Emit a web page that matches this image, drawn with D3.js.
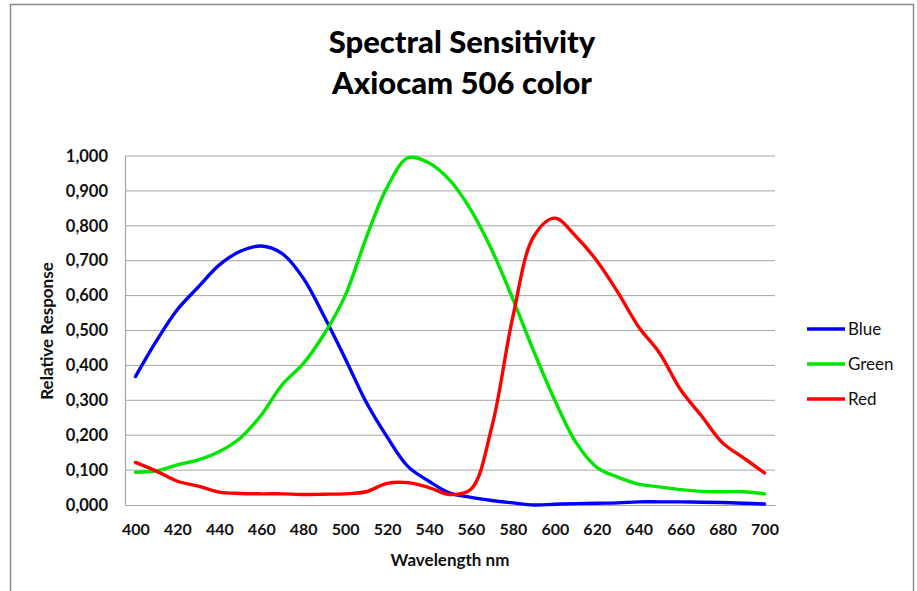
<!DOCTYPE html>
<html><head><meta charset="utf-8">
<script src="https://cdn.jsdelivr.net/npm/d3@7/dist/d3.min.js"></script>
<style>body{margin:0;background:#fff}svg{display:block}</style>
</head><body>
<svg id="c" width="917" height="591"></svg>
<script>
const wavelengths = [400,410,420,430,440,450,460,470,480,490,500,510,520,530,540,550,560,570,580,590,600,610,620,630,640,650,660,670,680,690,700];
const blue  = [0.368,0.47,0.56,0.625,0.688,0.727,0.742,0.72,0.65,0.54,0.42,0.295,0.195,0.11,0.068,0.034,0.022,0.013,0.006,0.0,0.002,0.004,0.005,0.006,0.009,0.009,0.009,0.008,0.007,0.005,0.003];
const green = [0.094,0.098,0.115,0.129,0.153,0.192,0.258,0.345,0.405,0.49,0.6,0.765,0.91,0.995,0.98,0.93,0.845,0.73,0.59,0.44,0.3,0.18,0.108,0.08,0.06,0.052,0.044,0.039,0.038,0.038,0.032];
const red   = [0.122,0.097,0.068,0.054,0.037,0.033,0.032,0.032,0.03,0.031,0.032,0.038,0.062,0.064,0.05,0.03,0.045,0.225,0.54,0.77,0.822,0.77,0.7,0.61,0.51,0.435,0.33,0.255,0.178,0.135,0.092];
const seriesNames = ["Blue","Green","Red"];
const seriesColors = ["#0000ff","#00e600","#ff0000"];
const yTicks = [0,0.1,0.2,0.3,0.4,0.5,0.6,0.7,0.8,0.9,1.0];
const xTickLabels = [400,420,440,460,480,500,520,540,560,580,600,620,640,660,680,700];

const svg = d3.select("#c");
const font = "Lato, 'Open Sans', sans-serif";
// frame
svg.append("rect").attr("x",10.5).attr("y",4.5).attr("width",903).attr("height",600)
  .attr("fill","none").attr("stroke","#8c8c8c").attr("stroke-width",1.5);

const L=125, R=775, T=156, B=505;
const x = d3.scalePoint().domain(wavelengths).range([L,R]).padding(0.5);
const y = d3.scaleLinear().domain([0,1]).range([B,T]);

// gridlines
svg.append("g").selectAll("line").data(yTicks.filter(d=>d>0)).join("line")
  .attr("x1",L).attr("x2",R).attr("y1",d=>y(d)).attr("y2",d=>y(d))
  .attr("stroke","#a6a6a6").attr("stroke-width",1);

// y axis
const fmt = d => d3.format(".3f")(d).replace(".",",");
const yAxis = svg.append("g").attr("transform",`translate(${L},0)`)
  .call(d3.axisLeft(y).tickValues(yTicks).tickFormat(fmt).tickSize(0).tickPadding(17));
yAxis.select(".domain").attr("stroke","#a6a6a6").attr("stroke-width",1.2);
yAxis.selectAll("text").attr("font-family",font).attr("font-weight","bold").attr("font-size","16.5px").attr("fill","#111");

// x axis
const xAxis = svg.append("g").attr("transform",`translate(0,${B})`)
  .call(d3.axisBottom(x).tickValues(xTickLabels).tickSize(0).tickPadding(19));
xAxis.select(".domain").attr("stroke","#a6a6a6").attr("stroke-width",1.2);
xAxis.selectAll("text").attr("font-family",font).attr("font-weight","bold").attr("font-size","16px").attr("fill","#111");

// lines
const data = [blue, green, red];
const line = d3.line().x((d,i)=>x(wavelengths[i])).y(d=>y(d)).curve(d3.curveCatmullRom.alpha(0.5));
svg.append("g").selectAll("path").data(data).join("path")
  .attr("d",d=>line(d)).attr("fill","none")
  .attr("stroke",(d,i)=>seriesColors[i]).attr("stroke-width",3.4)
  .attr("stroke-linejoin","round").attr("stroke-linecap","round");

// title
const title = svg.append("text").attr("text-anchor","middle").attr("font-family",font)
  .attr("font-weight","900").attr("font-size","31px").attr("fill","#000");
title.append("tspan").attr("x",462).attr("y",53).text("Spectral Sensitivity");
title.append("tspan").attr("x",462).attr("y",94).text("Axiocam 506 color");

// axis titles
svg.append("text").attr("transform","translate(53,331) rotate(-90)").attr("text-anchor","middle")
  .attr("font-family",font).attr("font-weight","bold").attr("font-size","17px").attr("fill","#111")
  .text("Relative Response");
svg.append("text").attr("x",450).attr("y",566).attr("text-anchor","middle")
  .attr("font-family",font).attr("font-weight","bold").attr("font-size","17px").attr("fill","#111")
  .text("Wavelength nm");

// legend
const lg = svg.append("g").selectAll("g").data(seriesNames).join("g")
  .attr("transform",(d,i)=>`translate(807,${329+i*35})`);
lg.append("line").attr("x1",0).attr("x2",38).attr("y1",0).attr("y2",0)
  .attr("stroke",(d,i)=>seriesColors[i]).attr("stroke-width",3.4);
lg.append("text").attr("x",41).attr("y",6).attr("font-family",font).attr("font-size","17px")
  .attr("fill","#111").text(d=>d);
</script>
</body></html>
